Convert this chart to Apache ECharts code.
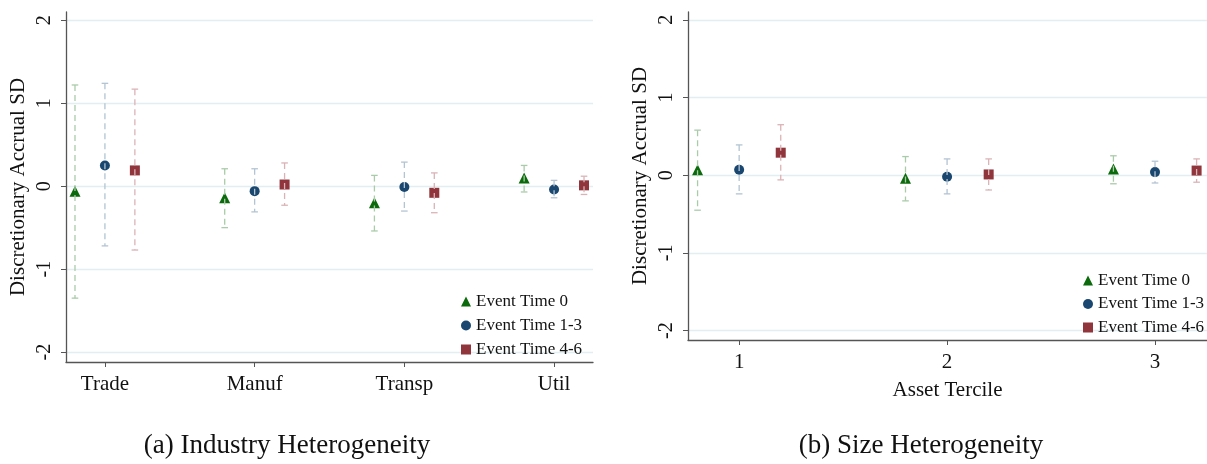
<!DOCTYPE html>
<html>
<head>
<meta charset="utf-8">
<script src="https://cdn.jsdelivr.net/npm/echarts@6/dist/echarts.min.js"></script>
<style>
  html, body { margin: 0; padding: 0; background: #fff; }
  #chart { width: 1207px; height: 464px; }
</style>
</head>
<body>
<div id="chart"></div>
<script>
// ---------- DATA ----------
const seriesNames = ['Event Time 0', 'Event Time 1-3', 'Event Time 4-6'];
const yTicks = [-2, -1, 0, 1, 2];

// Panel (a): Industry heterogeneity
const industryCats = ['Trade', 'Manuf', 'Transp', 'Util'];
const indEst0  = [-0.06, -0.14, -0.20,  0.10];
const indLo0   = [-1.35, -0.50, -0.54, -0.07];
const indHi0   = [ 1.22,  0.21,  0.13,  0.25];
const indEst13 = [ 0.25, -0.06, -0.01, -0.04];
const indLo13  = [-0.72, -0.31, -0.30, -0.14];
const indHi13  = [ 1.24,  0.21,  0.29,  0.07];
const indEst46 = [ 0.19,  0.02, -0.08,  0.01];
const indLo46  = [-0.77, -0.23, -0.32, -0.10];
const indHi46  = [ 1.17,  0.28,  0.16,  0.12];

// Panel (b): Size heterogeneity
const sizeCats = ['1', '2', '3'];
const sizEst0  = [ 0.07, -0.04,  0.08];
const sizLo0   = [-0.45, -0.33, -0.11];
const sizHi0   = [ 0.58,  0.24,  0.25];
const sizEst13 = [ 0.07, -0.02,  0.04];
const sizLo13  = [-0.24, -0.24, -0.10];
const sizHi13  = [ 0.39,  0.21,  0.18];
const sizEst46 = [ 0.29,  0.01,  0.06];
const sizLo46  = [-0.06, -0.19, -0.09];
const sizHi46  = [ 0.65,  0.21,  0.21];

// ---------- STYLE ----------
const FONT = 'Liberation Serif';
const colors = ['#0b6a0b', '#1a476f', '#90353b'];
const ciColors = ['#aacbaa', '#b3c4d3', '#dab3b7'];
const symbols = ['triangle', 'circle', 'rect'];
const symbolSizes = [11, 10, 10];
const offsets = [-0.2, 0, 0.2];
const gridColor = '#e3eef0';
const axisColor = '#555';

function errRender(color) {
  return function (params, api) {
    const x = api.value(0), lo = api.value(1), hi = api.value(2);
    const pLo = api.coord([x, lo]);
    const pHi = api.coord([x, hi]);
    const cap = 3.3;
    return {
      type: 'group',
      children: [
        { type: 'line', shape: { x1: pHi[0], y1: pHi[1], x2: pLo[0], y2: pLo[1] },
          style: { stroke: color, lineWidth: 1.3, lineDash: [6, 4] } },
        { type: 'line', shape: { x1: pHi[0] - cap, y1: pHi[1], x2: pHi[0] + cap, y2: pHi[1] },
          style: { stroke: color, lineWidth: 1.3 } },
        { type: 'line', shape: { x1: pLo[0] - cap, y1: pLo[1], x2: pLo[0] + cap, y2: pLo[1] },
          style: { stroke: color, lineWidth: 1.3 } }
      ]
    };
  };
}

function buildSeries(gridIdx, ests, los, his) {
  const out = [];
  for (let s = 0; s < 3; s++) {
    const pts = ests[s].map((v, i) => [i + 1 + offsets[s], v]);
    out.push({
      name: seriesNames[s], type: 'scatter', xAxisIndex: gridIdx, yAxisIndex: gridIdx,
      symbol: symbols[s], symbolSize: symbolSizes[s],
      itemStyle: { color: colors[s], opacity: 1 }, data: pts, z: 3, silent: true
    });
  }
  for (let s = 0; s < 3; s++) {
    const bars = ests[s].map((v, i) => [i + 1 + offsets[s], los[s][i], his[s][i]]);
    out.push({
      type: 'custom', xAxisIndex: gridIdx, yAxisIndex: gridIdx,
      renderItem: errRender(ciColors[s]), encode: { x: 0, y: [1, 2] },
      data: bars, z: 4, silent: true
    });
  }
  return out;
}

function yAxis(gridIdx) {
  return {
    type: 'value', gridIndex: gridIdx, min: -2.12, max: 2.1,
    name: 'Discretionary Accrual SD', nameLocation: 'middle', nameRotate: 90, nameGap: 37,
    nameTextStyle: { fontFamily: FONT, fontSize: 21, color: '#111' },
    axisLine: { show: true, lineStyle: { color: axisColor, width: 1.3 } },
    axisTick: { show: true, length: 5, customValues: yTicks, lineStyle: { color: axisColor } },
    axisLabel: { customValues: yTicks, rotate: 90, margin: 11, fontFamily: FONT, fontSize: 20, color: '#111',
                 formatter: v => String(v) },
    splitLine: { show: true, lineStyle: { color: gridColor, width: 1.3 } }
  };
}

const option = {
  animation: false,
  backgroundColor: '#fff',
  grid: [
    { left: 66, top: 12, width: 527, height: 350, containLabel: false },
    { left: 688, top: 12, width: 528, height: 328, containLabel: false }
  ],
  xAxis: [
    {
      type: 'value', gridIndex: 0, min: 0.74, max: 4.26,
      axisLine: { show: true, onZero: false, lineStyle: { color: axisColor, width: 1.3 } },
      axisTick: { show: true, length: 5, customValues: industryCats.map((c, i) => i + 1), lineStyle: { color: axisColor } },
      axisLabel: { customValues: industryCats.map((c, i) => i + 1), margin: 12, fontFamily: FONT, fontSize: 21, color: '#111',
                   formatter: v => industryCats[Math.round(v) - 1] || '' },
      splitLine: { show: false }
    },
    {
      type: 'value', gridIndex: 1, min: 0.754, max: 3.25,
      name: 'Asset Tercile', nameLocation: 'middle', nameGap: 40,
      nameTextStyle: { fontFamily: FONT, fontSize: 21, color: '#111' },
      axisLine: { show: true, onZero: false, lineStyle: { color: axisColor, width: 1.3 } },
      axisTick: { show: true, length: 5, customValues: sizeCats.map((c, i) => i + 1), lineStyle: { color: axisColor } },
      axisLabel: { customValues: sizeCats.map((c, i) => i + 1), margin: 12, fontFamily: FONT, fontSize: 21, color: '#111',
                   formatter: v => sizeCats[Math.round(v) - 1] || '' },
      splitLine: { show: false }
    }
  ],
  yAxis: [yAxis(0), yAxis(1)],
  legend: [
    {
      orient: 'vertical', left: 461, top: 293, padding: 0, itemGap: 7,
      itemWidth: 10, itemHeight: 10, data: seriesNames, selectedMode: false,
      textStyle: { fontFamily: FONT, fontSize: 17, color: '#111' }
    },
    {
      orient: 'vertical', left: 1083, top: 272, padding: 0, itemGap: 6.5,
      itemWidth: 10, itemHeight: 10, data: seriesNames, selectedMode: false,
      textStyle: { fontFamily: FONT, fontSize: 17, color: '#111' }
    }
  ],
  graphic: [
    { type: 'text', x: 287, y: 446, style: { text: '(a) Industry Heterogeneity', font: '27px "Liberation Serif"', fill: '#111', align: 'center', verticalAlign: 'middle' } },
    { type: 'text', x: 921, y: 446, style: { text: '(b) Size Heterogeneity', font: '27px "Liberation Serif"', fill: '#111', align: 'center', verticalAlign: 'middle' } }
  ],
  series: [].concat(
    buildSeries(0, [indEst0, indEst13, indEst46], [indLo0, indLo13, indLo46], [indHi0, indHi13, indHi46]),
    buildSeries(1, [sizEst0, sizEst13, sizEst46], [sizLo0, sizLo13, sizLo46], [sizHi0, sizHi13, sizHi46])
  )
};

const chart = echarts.init(document.getElementById('chart'), null, { renderer: 'canvas' });
chart.setOption(option);
</script>
</body>
</html>
